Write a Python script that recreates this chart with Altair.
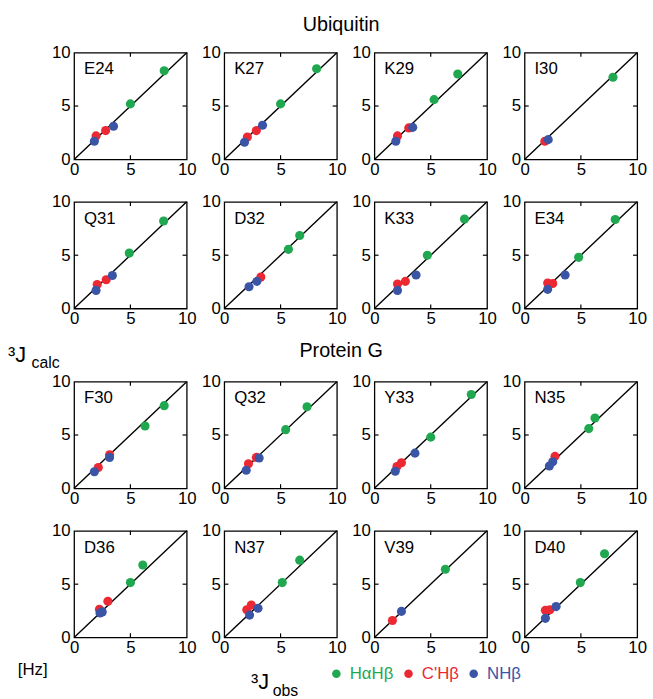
import altair as alt
import pandas as pd

FONT = "Liberation Sans"

SERIES = ["HαHβ", "C'Hβ", "NHβ"]
COLORS = ["#1fa84f", "#ec2833", "#3a55a6"]

SECTION_TITLES = ["Ubiquitin", "Protein G"]
PANELS_UBIQUITIN = ["E24", "K27", "K29", "I30", "Q31", "D32", "K33", "E34"]
PANELS_PROTEIN_G = ["F30", "Q32", "Y33", "N35", "D36", "N37", "V39", "D40"]

# 3J observed / calculated (Hz) for each panel and coupling type
HAHB_OBS = {"E24": [8.0, 5.0], "K27": [8.2, 5.0], "K29": [7.4, 5.3], "I30": [7.85],
            "Q31": [7.95, 4.9], "D32": [6.7, 5.7], "K33": [8.0, 4.7], "E34": [8.05, 4.8],
            "F30": [8.0, 6.3], "Q32": [7.35, 5.45], "Y33": [8.6, 5.0], "N35": [6.25, 5.7],
            "D36": [6.1, 5.0], "N37": [6.7, 5.15], "V39": [6.3], "D40": [7.1, 4.95]}
HAHB_CALC = {"E24": [8.3, 5.2], "K27": [8.5, 5.2], "K29": [8.0, 5.6], "I30": [7.7],
             "Q31": [8.2, 5.2], "D32": [6.85, 5.55], "K33": [8.4, 5.0], "E34": [8.35, 4.8],
             "F30": [7.75, 5.85], "Q32": [7.65, 5.5], "Y33": [8.8, 4.8], "N35": [6.6, 5.6],
             "D36": [6.8, 5.15], "N37": [7.25, 5.15], "V39": [6.4], "D40": [7.85, 5.15]}
CHB_OBS = {"E24": [2.8, 1.95], "K27": [2.85, 2.05], "K29": [3.05, 2.05], "I30": [1.8],
           "Q31": [2.85, 2.05], "D32": [3.25], "K33": [2.75, 2.05], "E34": [2.5, 2.05],
           "F30": [3.15, 2.15], "Q32": [2.85, 2.15], "Y33": [2.4, 2.0], "N35": [2.7],
           "D36": [3.0, 2.25], "N37": [2.4, 2.0], "V39": [1.6], "D40": [2.25, 1.85]}
CHB_CALC = {"E24": [2.7, 2.2], "K27": [2.7, 2.1], "K29": [2.95, 2.2], "I30": [1.7],
            "Q31": [2.7, 2.25], "D32": [2.95], "K33": [2.55, 2.3], "E34": [2.35, 2.4],
            "F30": [3.15, 1.95], "Q32": [2.9, 2.3], "Y33": [2.4, 2.05], "N35": [3.0],
            "D36": [3.4, 2.65], "N37": [3.05, 2.6], "V39": [1.6], "D40": [2.6, 2.55]}
NHB_OBS = {"E24": [3.5, 1.8], "K27": [3.4, 1.8], "K29": [3.4, 1.9], "I30": [2.1],
           "Q31": [3.4, 1.95], "D32": [2.9, 2.2], "K33": [3.7, 2.05], "E34": [3.6, 2.05],
           "F30": [3.15, 1.8], "Q32": [3.1, 1.95], "Y33": [3.6, 1.85], "N35": [2.5, 2.2],
           "D36": [2.5, 2.3], "N37": [3.0, 2.25], "V39": [2.4], "D40": [2.8, 1.85]}
NHB_CALC = {"E24": [3.1, 1.7], "K27": [3.2, 1.6], "K29": [3.0, 1.7], "I30": [1.85],
            "Q31": [3.1, 1.7], "D32": [2.55, 2.05], "K33": [3.15, 1.7], "E34": [3.15, 1.8],
            "F30": [2.9, 1.55], "Q32": [2.85, 1.7], "Y33": [3.3, 1.6], "N35": [2.5, 2.1],
            "D36": [2.4, 2.3], "N37": [2.75, 2.1], "V39": [2.45], "D40": [2.9, 1.8]}

AXIS_DOMAIN = [0, 10]
AXIS_TICKS = [0, 5, 10]
INNER_TICK = 5

ANNOTATIONS = ["³J", "calc", "[Hz]", "³J", "obs"]

PANEL_W, PANEL_H = 114, 108
TICK_LEN_X = 0.37
TICK_LEN_Y = 0.39

scale = alt.Scale(domain=AXIS_DOMAIN, nice=False, zero=False)
axis_common = dict(values=AXIS_TICKS, title=None, grid=False, ticks=False, tickSize=0,
                   domain=False, labelFlush=False, labelOverlap=False, labelFontSize=17,
                   labelFont=FONT, labelColor="black")
x_axis = alt.Axis(labelPadding=2, labelAngle=0, **axis_common)
y_axis = alt.Axis(labelPadding=4, **axis_common)

legend = alt.Legend(orient="none", legendX=327, legendY=620, direction="horizontal",
                    title=None, symbolType="circle", symbolSize=75, symbolStrokeWidth=0,
                    labelFontSize=17, labelFont=FONT, labelOffset=5, columnPadding=6,
                    labelColor=alt.ExprRef(expr="scale('color', datum.value)"))
color = alt.Color("type:N", scale=alt.Scale(domain=SERIES, range=COLORS), legend=legend)

diag_df = pd.DataFrame({"obs": AXIS_DOMAIN, "calc": AXIS_DOMAIN})
lo, hi = AXIS_DOMAIN
tick_df = pd.DataFrame({
    "x": [INNER_TICK, INNER_TICK, lo, hi - TICK_LEN_X],
    "x2": [INNER_TICK, INNER_TICK, lo + TICK_LEN_X, hi],
    "y": [lo, hi - TICK_LEN_Y, INNER_TICK, INNER_TICK],
    "y2": [lo + TICK_LEN_Y, hi, INNER_TICK, INNER_TICK],
})


def panel(name):
    obs, calc, typ = [], [], []
    for s, o, c in zip(SERIES, [HAHB_OBS, CHB_OBS, NHB_OBS], [HAHB_CALC, CHB_CALC, NHB_CALC]):
        obs += o[name]
        calc += c[name]
        typ += [s] * len(o[name])
    df = pd.DataFrame({"obs": obs, "calc": calc, "type": typ})

    diag = alt.Chart(diag_df).mark_line(color="black", strokeWidth=1.4).encode(
        x=alt.X("obs:Q", scale=scale, axis=x_axis),
        y=alt.Y("calc:Q", scale=scale, axis=y_axis))
    ticks = alt.Chart(tick_df).mark_rule(color="black", strokeWidth=1.2).encode(
        x=alt.X("x:Q", scale=scale, axis=x_axis), x2="x2:Q",
        y=alt.Y("y:Q", scale=scale, axis=y_axis), y2="y2:Q")
    pts = alt.Chart(df).mark_circle(size=85, opacity=1).encode(
        x=alt.X("obs:Q", scale=scale, axis=x_axis),
        y=alt.Y("calc:Q", scale=scale, axis=y_axis),
        color=color)
    label = alt.Chart(pd.DataFrame({"name": [name]})).mark_text(
        align="left", baseline="middle", fontSize=17, font=FONT, color="black").encode(
        text="name:N", x=alt.value(10), y=alt.value(17))
    return alt.layer(diag, ticks, pts, label).properties(width=PANEL_W, height=PANEL_H)


def row(names, title=None, offset=0):
    kw = dict(spacing=38, bounds="flush")
    if title is not None:
        kw["title"] = alt.TitleParams(title, fontSize=20, font=FONT, fontWeight="normal",
                                      anchor="middle", offset=offset, dx=-8, color="black")
    return alt.hconcat(*[panel(n) for n in names], **kw)


SR, SG = 14, 14
group_u = alt.vconcat(row(PANELS_UBIQUITIN[:4], SECTION_TITLES[0], 8),
                      row(PANELS_UBIQUITIN[4:]), spacing=SR)
group_p = alt.vconcat(row(PANELS_PROTEIN_G[:4], SECTION_TITLES[1], 11),
                      row(PANELS_PROTEIN_G[4:]), spacing=SR)
main = alt.vconcat(group_u, group_p, spacing=SG)


def ann(i, x, y, size):
    return alt.Chart(pd.DataFrame({"t": [ANNOTATIONS[i]]})).mark_text(
        align="left", baseline="alphabetic", fontSize=size, font=FONT, color="black"
    ).encode(text="t:N", x=alt.value(x), y=alt.value(y))


left = alt.layer(
    ann(0, 3, 313, 22),
    ann(1, 27, 319, 16),
    ann(2, 13, 630, 17),
    ann(3, 249, 644, 22),
    ann(4, 271, 651, 16),
).properties(width=63, height=560, view=alt.ViewBackground(strokeOpacity=0))

chart = alt.hconcat(left, main, spacing=7, bounds="flush").properties(
    padding={"left": 5, "top": 11, "right": 5, "bottom": 5}
).configure_view(stroke="black", strokeWidth=1.3)

chart.save("out.html", embed_options={"renderer": "svg", "actions": False})
